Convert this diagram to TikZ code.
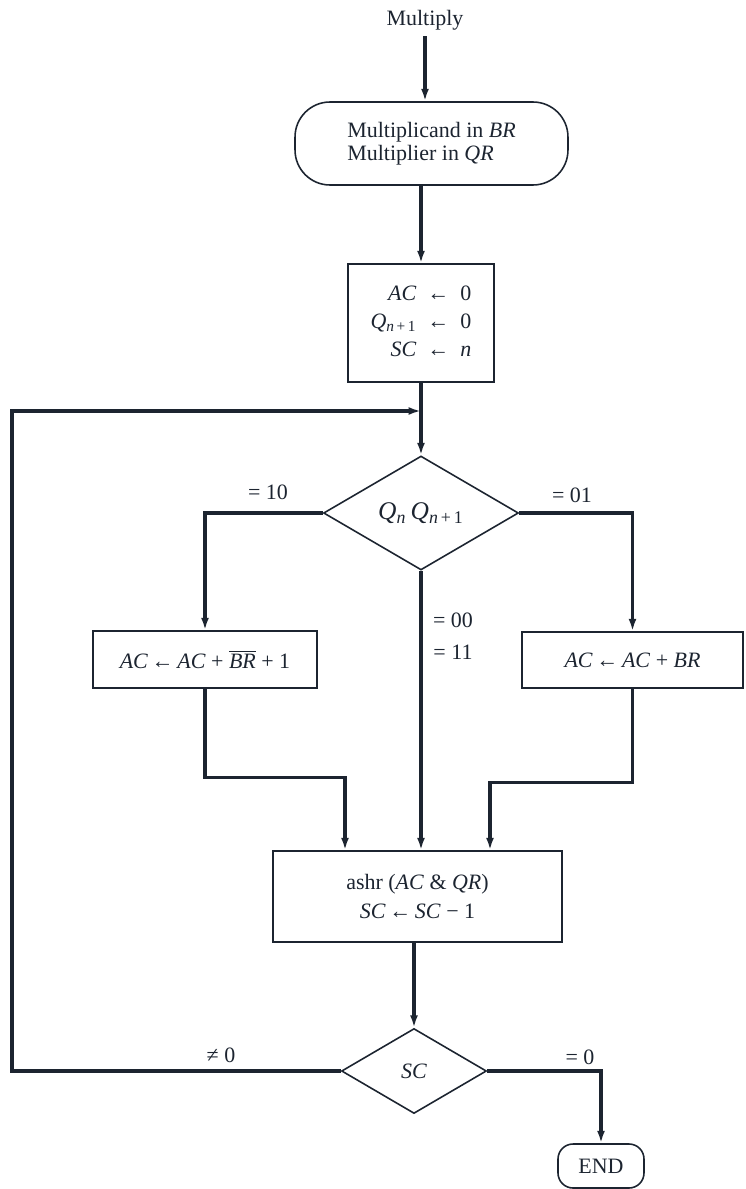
\documentclass[tikz,border=0pt]{standalone}
\usepackage{fontspec}
\setmainfont{Liberation Serif}
\usetikzlibrary{shapes.geometric,arrows.meta,calc}
\definecolor{ink}{RGB}{28,36,48}
\newcommand\iv[1]{\textit{#1}}
\newcommand\la{\,←\,}
\begin{document}
\begin{tikzpicture}[x=0.02cm,y=-0.02cm,
  every node/.style={font=\fontsize{12.5}{14}\selectfont, text=ink},
  box/.style={draw=ink, line width=0.9pt, rectangle, inner sep=2pt},
  term/.style={draw=ink, line width=0.9pt, rectangle, rounded corners=0.7cm, inner sep=2pt},
  dec/.style={draw=ink, line width=0.9pt, diamond, inner sep=0pt},
  conn/.style={draw=ink, line width=1.8pt, -{Latex[length=7pt,width=4.5pt]}},
  lbl/.style={inner sep=1pt}]
\useasboundingbox (0,0) rectangle (745,1189);

\node (mult) at (425,20) {Multiply};
\node[term, minimum width=5.46cm, minimum height=1.66cm, align=left] (start) at (431.5,143.5)
  {Multiplicand in \iv{BR}\\[-1pt] Multiplier in \iv{QR}};
\node[box, minimum width=2.92cm, minimum height=2.36cm] (init) at (421,323)
  {\renewcommand\arraystretch{1.15}\begin{tabular}{@{}r@{\enspace}c@{\enspace}l@{}}
   \iv{AC} & ← & 0\\
   \iv{Q}\textsubscript{\iv{n}\,+\,1} & ← & 0\\
   \iv{SC} & ← & \iv{n}
   \end{tabular}};
\node[dec, minimum width=3.9cm, minimum height=2.28cm, font=\fontsize{14.5}{16}\selectfont] (d1) at (421,513)
  {\iv{Q}\textsubscript{\iv{n}}\,\iv{Q}\textsubscript{\iv{n}\,+\,1}};
\node[box, minimum width=4.48cm, minimum height=1.14cm] (L) at (205,659.5)
  {\iv{AC}\la\iv{AC} + $\overline{\hbox{\iv{BR}}}$ + 1};
\node[box, minimum width=4.42cm, minimum height=1.12cm] (R) at (632.5,660)
  {\iv{AC}\la\iv{AC} + \iv{BR}};
\node[box, minimum width=5.78cm, minimum height=1.82cm, align=center] (ashr) at (417.5,896.5)
  {ashr (\iv{AC} \& \iv{QR})\\[3pt] \iv{SC}\la\iv{SC} − 1};
\node[dec, minimum width=2.9cm, minimum height=1.7cm] (d2) at (414,1071) {\iv{SC}};
\node[term, rounded corners=0.3cm, minimum width=1.72cm, minimum height=0.88cm] (end) at (601,1166) {END};

\node[lbl] (l10) at (268,492) {= 10};
\node[lbl] (l01) at (572,495) {= 01};
\node[lbl] (l00) at (453,620) {= 00};
\node[lbl] (l11) at (453,652) {= 11};
\node[lbl] (lne) at (221,1055) {≠ 0};
\node[lbl] (leq) at (580,1057) {= 0};

\coordinate (j) at (421,411);
\coordinate (lx) at (12,0);
\path (ashr.north) ++(-72.5,0) coordinate (inL);
\path (ashr.north) ++(72.5,0) coordinate (inR);

\draw[conn] (mult) -- (mult |- start.north);
\draw[conn] (start.south -| init) -- (init.north);
\draw[conn] (init.south) -- (d1.north);
\draw[conn] (d1.west) -| (L.north);
\draw[conn] (d1.east) -| (R.north);
\draw[conn] (d1.south) -- (d1.south |- ashr.north);
\draw[conn] (L.south) -- ++(0,89) -| (inL);
\draw[conn] (R.south) -- ++(0,94) -| (inR);
\draw[conn] (d2.north |- ashr.south) -- (d2.north);
\draw[conn] (d2.west) -- (d2.west -| lx) |- (j);
\draw[conn] (d2.east) -| (end.north);
\end{tikzpicture}
\end{document}
